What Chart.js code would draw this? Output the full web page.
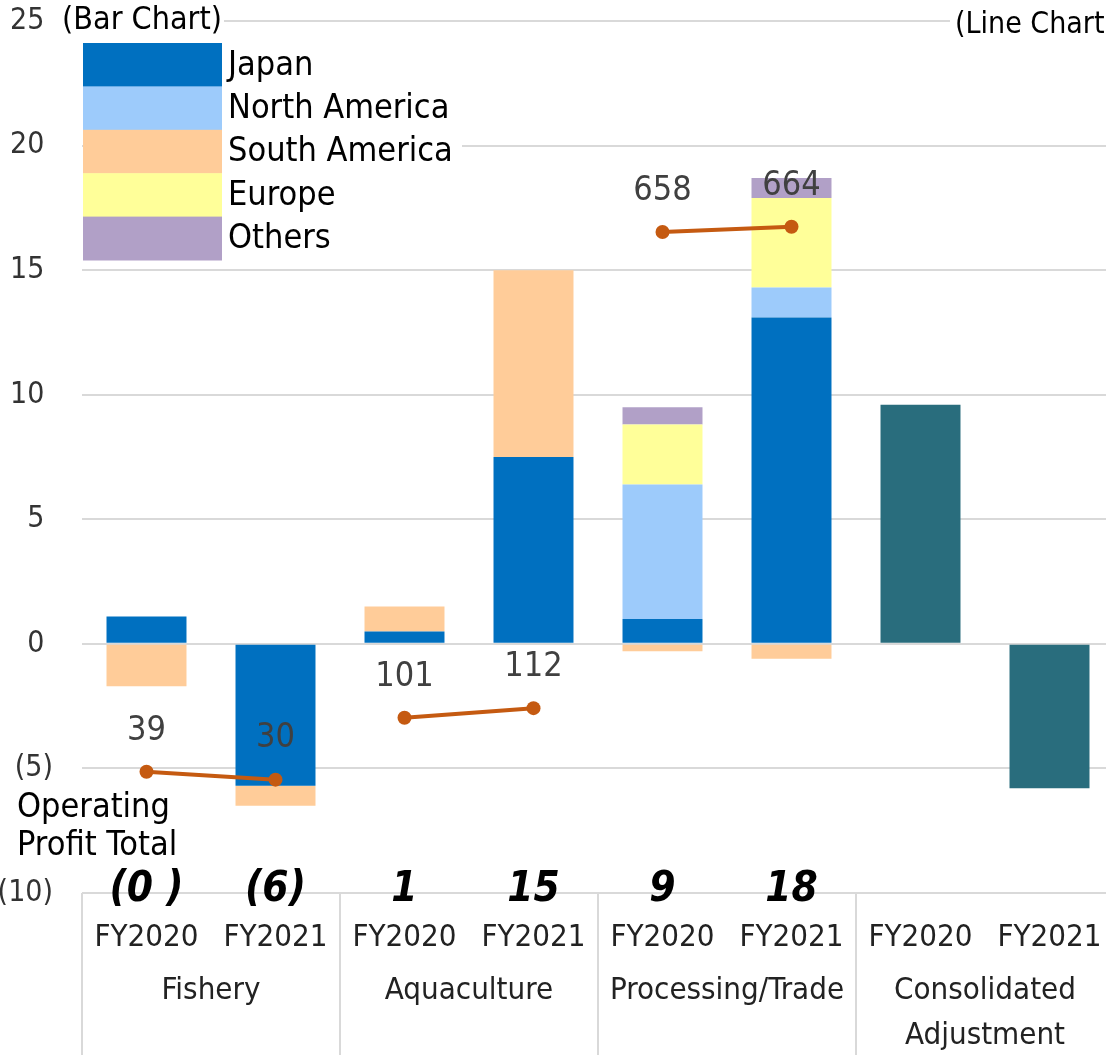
<!DOCTYPE html>
<html>
<head>
<meta charset="utf-8">
<title>Operating Profit by Segment</title>
<script src="https://cdn.jsdelivr.net/npm/chart.js@4.4.1/dist/chart.umd.min.js"></script>
<style>
    html, body { margin: 0; padding: 0; background: #fff; overflow: hidden; }
    #profitChart { display: block; }
</style>
</head>
<body>
<canvas id="profitChart" width="1130" height="1055"></canvas>
<script>
// Categories: two fiscal years per business segment
const fiscalYears = ['FY2020', 'FY2021', 'FY2020', 'FY2021', 'FY2020', 'FY2021', 'FY2020', 'FY2021'];
const segmentNames = [['Fishery'], ['Aquaculture'], ['Processing/Trade'], ['Consolidated', 'Adjustment']];

// Operating profit by region (bar chart, left axis)
const japan = [1.1, -5.7, 0.5, 7.5, 1.0, 13.1, null, null];
const northAmerica = [null, null, null, null, 5.4, 1.2, null, null];
const southAmerica = [-1.7, -0.8, 1.0, 7.5, -0.3, -0.6, null, null];
const europe = [null, null, null, null, 2.4, 3.6, null, null];
const others = [null, null, null, null, 0.7, 0.8, null, null];
const adjustment = [null, null, null, null, null, null, 9.6, -5.8];

// Operating profit total printed under each bar
const profitTotals = ['(0 )', '(6)', '1', '15', '9', '18', '', ''];

// Line chart values (right axis)
const lineValues = [39, 30, 101, 112, 658, 664, null, null];

const regionNames = ['Japan', 'North America', 'South America', 'Europe', 'Others'];
const regionColors = ['#0070c0', '#9dcbfb', '#ffcc99', '#ffff99', '#b1a0c7'];

const FONT = '"DejaVu Sans Condensed", "DejaVu Sans", sans-serif';

// Squeeze out the automatic label padding so the plot area sits exactly where we want it
function noPadding(scale) {
    scale.paddingTop = 0;
    scale.paddingBottom = 0;
    scale.paddingLeft = 0;
    scale.paddingRight = 0;
}

const overlayPlugin = {
    id: 'overlay',
    afterDraw(chart) {
        const { ctx, chartArea, scales } = chart;
        const x = scales.x;
        ctx.save();

        // group separators below the plot
        ctx.strokeStyle = '#d9d9d9';
        ctx.lineWidth = 2;
        const groupWidth = chartArea.width / segmentNames.length;
        for (let g = 0; g <= segmentNames.length; g++) {
            const px = Math.round(chartArea.left + g * groupWidth);
            ctx.beginPath();
            ctx.moveTo(px, chartArea.bottom);
            ctx.lineTo(px, chart.height);
            ctx.stroke();
        }

        // segment names
        ctx.fillStyle = '#222';
        ctx.font = '31px ' + FONT;
        ctx.textAlign = 'center';
        ctx.textBaseline = 'middle';
        segmentNames.forEach((lines, g) => {
            const cx = (x.getPixelForValue(g * 2) + x.getPixelForValue(g * 2 + 1)) / 2;
            lines.forEach((t, i) => ctx.fillText(t, cx, 991 + i * 45));
        });

        // operating profit totals
        ctx.fillStyle = '#000';
        ctx.font = 'italic bold 42px ' + FONT;
        profitTotals.forEach((t, i) => {
            if (t) ctx.fillText(t, x.getPixelForValue(i), 890);
        });

        // line value labels
        const meta = chart.getDatasetMeta(chart.data.datasets.length - 1);
        ctx.fillStyle = '#404040';
        ctx.font = '34px ' + FONT;
        meta.data.forEach((pt, i) => {
            if (lineValues[i] == null) return;
            ctx.fillText(String(lineValues[i]), pt.x, pt.y - 41);
        });

        // axis captions
        ctx.font = '32px ' + FONT;
        ctx.textAlign = 'left';
        ctx.fillStyle = '#fff';
        ctx.fillRect(chartArea.left, 4, 224 - chartArea.left, 34);
        ctx.fillRect(950, 6, 200, 36);
        ctx.fillStyle = '#000';
        ctx.fillText('(Bar Chart)', 62, 21);
        ctx.font = '30px ' + FONT;
        ctx.fillText('(Line Chart)', 955, 25);

        ctx.font = '34px ' + FONT;
        ctx.fillText('Operating', 17, 808);
        ctx.fillText('Profit Total', 17, 846);

        // legend
        const rowH = 43.4;
        const top = 43;
        ctx.fillStyle = '#fff';
        ctx.fillRect(222, top, 240, rowH * regionNames.length);
        ctx.font = '34px ' + FONT;
        regionNames.forEach((name, i) => {
            const y = top + i * rowH;
            ctx.fillStyle = regionColors[i];
            ctx.fillRect(83, y, 139, rowH + 0.5);
            ctx.fillStyle = '#000';
            ctx.fillText(name, 228, y + rowH / 2 + 1);
        });

        ctx.restore();
    }
};

const barDataset = (label, data, color) => ({
    type: 'bar',
    label: label,
    data: data,
    backgroundColor: color,
    stack: 'regions',
    yAxisID: 'y',
    order: 1,
    barPercentage: 0.62,
    categoryPercentage: 1,
});

const ctx = document.getElementById('profitChart').getContext('2d');
const profitChart = new Chart(ctx, {
    data: {
        labels: fiscalYears,
        datasets: [
            barDataset(regionNames[0], japan, regionColors[0]),
            barDataset(regionNames[1], northAmerica, regionColors[1]),
            barDataset(regionNames[2], southAmerica, regionColors[2]),
            barDataset(regionNames[3], europe, regionColors[3]),
            barDataset(regionNames[4], others, regionColors[4]),
            barDataset('Consolidated Adjustment', adjustment, '#296d7d'),
            {
                type: 'line',
                label: 'Line Chart',
                data: lineValues,
                yAxisID: 'y1',
                order: 0,
                borderColor: '#c55a11',
                borderWidth: 4,
                pointRadius: 7,
                pointBackgroundColor: '#c55a11',
                pointBorderWidth: 0,
                spanGaps: false,
                // only join the two years of the same segment
                segment: {
                    borderColor: c => (c.p0DataIndex % 2 === 1 ? 'rgba(0,0,0,0)' : undefined),
                },
            },
        ]
    },
    options: {
        responsive: false,
        animation: false,
        layout: {
            padding: { top: 21, right: 16, left: 0, bottom: 0 },
        },
        scales: {
            x: {
                offset: true,
                grid: { display: false },
                border: { display: false },
                ticks: {
                    color: '#222',
                    font: { family: FONT, size: 31 },
                    padding: 18,
                    maxRotation: 0,
                    autoSkip: false,
                },
                afterFit: s => { s.height = 162; noPadding(s); },
            },
            y: {
                stacked: true,
                min: -10,
                max: 25,
                border: { display: false },
                grid: {
                    color: '#d9d9d9',
                    lineWidth: 2,
                    drawTicks: false,
                },
                ticks: {
                    stepSize: 5,
                    color: '#333',
                    font: { family: FONT, size: 30 },
                    padding: 29,
                    callback: v => (v < 0 ? '(' + (-v) + ')' : v + ' '),
                },
                afterFit: s => { s.width = 82; noPadding(s); },
            },
            y1: {
                display: false,
                position: 'right',
                min: -100,
                max: 900,
                stacked: false,
            },
        },
        plugins: {
            legend: { display: false },
            tooltip: { enabled: false },
        },
    },
    plugins: [overlayPlugin],
});
</script>
</body>
</html>
